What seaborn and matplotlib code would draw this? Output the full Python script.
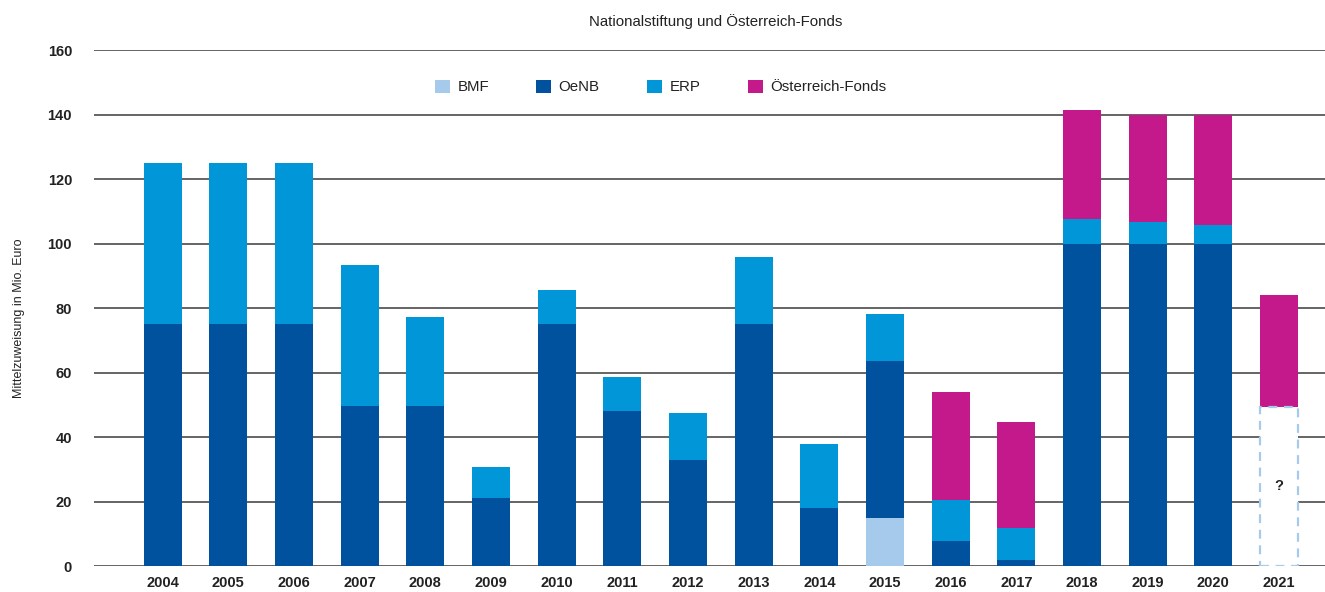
import numpy as np
import seaborn as sns
import matplotlib.pyplot as plt
from matplotlib.patches import Patch

years = [str(y) for y in range(2004, 2022)]
offen = [0] * 17 + [49.4]  # 2021: noch unbekannt ("?")
bmf = [0] * 11 + [15] + [0] * 6
oenb = [75, 75, 75, 49.5, 49.5, 21, 75, 48, 33, 75, 18, 48.6, 7.7, 1.9, 100, 100, 100, 0]
erp = [50, 50, 50, 43.8, 27.7, 9.6, 10.6, 10.6, 14.5, 20.8, 19.8, 14.5, 12.8, 9.9, 7.7, 6.7, 5.8, 0]
oef = [0] * 12 + [33.5, 32.8, 33.7, 33.3, 34.2, 34.6]

labels = ['BMF', 'OeNB', 'ERP', 'Österreich-Fonds']
colors = ['#A6CAEC', '#00519E', '#0096D8', '#C4198A']

sns.set_style('white')
plt.rcParams['font.family'] = ['Liberation Sans', 'DejaVu Sans']

fig = plt.figure(figsize=(13.25, 5.92), dpi=100)
ax = fig.add_axes([0.0712, 0.0439, 0.9288, 0.8716])

# stacked bars: draw cumulative totals from the top layer down
layers = [offen, bmf, oenb, erp, oef]
cum = np.cumsum(np.array(layers, dtype=float), axis=0)
for i, c in zip([4, 3, 2, 1], colors[::-1]):
    sns.barplot(x=years, y=cum[i], color=c, width=0.58, saturation=1,
                errorbar=None, ax=ax, linewidth=0)

# unknown 2021 base: white box with dashed outline
x_off = [y for y, v in zip(years, offen) if v > 0]
y_off = [v for v in offen if v > 0]
sns.barplot(x=x_off, y=y_off, order=years, color='white', width=0.58, saturation=1,
            errorbar=None, ax=ax, edgecolor='#A6CAEC', linewidth=1.6, linestyle=(0, (4, 3)))
for x, v in zip(x_off, y_off):
    ax.text(years.index(x), v / 2, '?', ha='center', va='center',
            fontsize=10.5, fontweight='bold', color='#222222')

ax.set_ylim(0, 160)
ax.set_xlim(-1.04, 17.70)
ax.set_yticks(range(0, 161, 20))
ax.set_axisbelow(True)
ax.yaxis.grid(True, color='#3a3a3a', linewidth=1.1)
ax.xaxis.grid(False)
sns.despine(ax=ax, left=True, bottom=True)
ax.tick_params(axis='y', length=0, pad=16, labelsize=10.5, labelcolor='#222222')
ax.tick_params(axis='x', length=0, pad=7, labelsize=10.5, labelcolor='#222222')
for t in ax.get_xticklabels() + ax.get_yticklabels():
    t.set_fontweight('bold')
ax.set_xlabel('')
ax.set_ylabel('')

fig.text(0.014, 0.463, 'Mittelzuweisung in Mio. Euro', rotation=90,
         ha='center', va='center', fontsize=9, color='#222222')
fig.text(0.54, 0.963, 'Nationalstiftung und Österreich-Fonds', ha='center',
         va='center', fontsize=10.8, color='#222222')

handles = [Patch(facecolor=c, edgecolor='none') for c in colors]
fig.legend(handles, labels, loc='center', bbox_to_anchor=(0.4985, 0.853), ncol=4,
           frameon=False, fontsize=10.8, handlelength=1.0, handleheight=1.0,
           handletextpad=0.5, columnspacing=3.15, labelcolor='#222222')

fig.savefig('out.png', dpi=100)
